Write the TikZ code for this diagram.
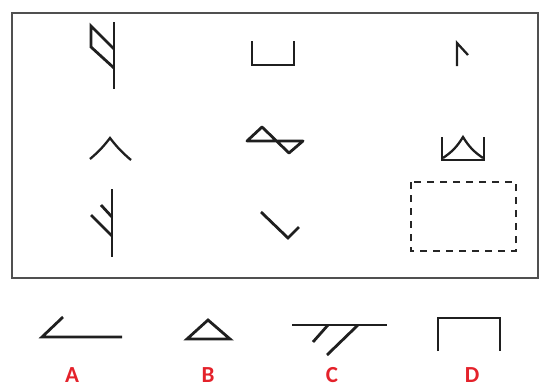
\documentclass[tikz,border=0pt]{standalone}
\usepackage{fontspec}
\setmainfont{Carlito}
\definecolor{lbl}{HTML}{E4222B}
\definecolor{frm}{HTML}{505050}
\begin{document}
\begin{tikzpicture}[x=1pt,y=-1pt,
  sym/.style={line width=2.8pt,line join=miter,line cap=butt,black!88},
  thin sym/.style={line width=2.3pt,line join=miter,black!88},
  lab/.style={text=lbl,font=\bfseries\fontsize{23}{23}\selectfont,inner sep=0pt,anchor=base}]
\useasboundingbox (0,0) rectangle (541,389);
% frame
\draw[frm,line width=2pt] (12,13) rectangle (538,278);
% row 1
\draw[sym] (114,22) -- (114,89);
\draw[sym] (114,49) -- (91,26) -- (91,47) -- (114,68);
\draw[sym] (252,41) -- (252,65) -- (294,65) -- (294,41);
\draw[thin sym] (457,66) -- (457,43) -- (468,55);
% row 2
\draw[thin sym] (90,159) to[bend right=6] (110,138) to[bend right=6] (131,160);
\draw[sym,line join=round] (247,141) -- (303,141) -- (289,153) -- (262,127) -- cycle;
\draw[thin sym] (442,137) -- (442,160) -- (484,160) -- (484,137);
\draw[thin sym] (443,158) to[bend right=12] (463,137) to[bend right=12] (483,158);
% row 3
\draw[sym] (112,189) -- (112,257);
\draw[sym] (101,205) -- (112,217);
\draw[sym] (91,215) -- (112,236);
\draw[sym] (261,212) -- (288,238) -- (299,227);
\draw[black!85,line width=2pt,dash pattern=on 7pt off 6pt] (411,182) rectangle (516,251);
% options
\draw[sym] (122,337) -- (42,337) -- (63,317);
\draw[sym,line join=miter] (187,339) -- (230,339) -- (208,320) -- cycle;
\draw[sym] (292,325) -- (387,325);
\draw[sym] (328,325) -- (313,342);
\draw[sym] (358,325) -- (327,355);
\draw[sym] (438,351) -- (438,318) -- (500,318) -- (500,351);
% labels
\node[lab] (la) at (72,382) {A};
\node[lab] (lb) at (208,382) {B};
\node[lab] (lc) at (332,382) {C};
\node[lab] (ld) at (472,382) {D};
\end{tikzpicture}
\end{document}
